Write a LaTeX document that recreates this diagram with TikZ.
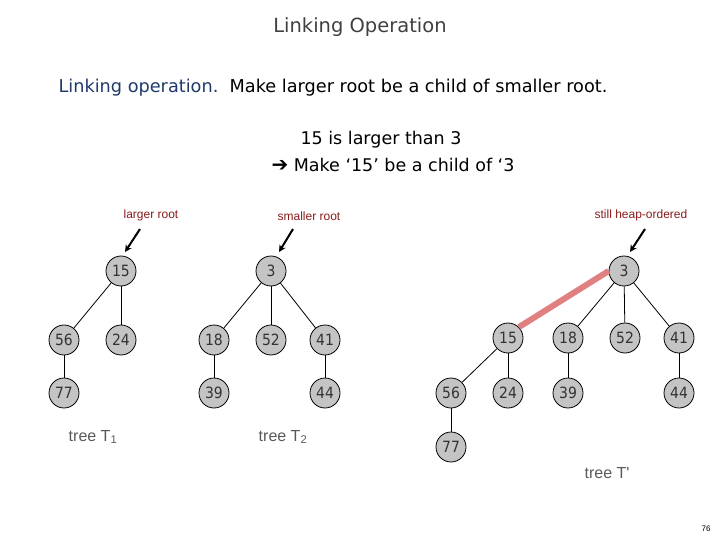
\documentclass[tikz,border=0pt]{standalone}
\usepackage{fontspec}
\setmainfont{DejaVu Sans}
\newfontfamily\keyfont{DejaVu Sans Condensed}
\newfontfamily\notefont{Liberation Sans}
\usetikzlibrary{arrows.meta}

\definecolor{keygray}{HTML}{C4C4C4}
\definecolor{notered}{HTML}{8B1A1A}
\definecolor{linkred}{HTML}{E08080}
\definecolor{headblue}{HTML}{1F3A6B}

\tikzset{
  key/.style={circle, draw, line width=0.8pt, fill=keygray, minimum size=30pt,
    inner sep=0pt, font=\keyfont\fontsize{15.5}{15.5}\selectfont, text=black!80},
  edge/.style={line width=0.8pt},
  note/.style={font=\notefont\fontsize{12}{12}\selectfont, text=notered},
  pointer/.style={line width=2pt, -{Stealth[length=7pt, width=7pt]}},
  treename/.style={font=\notefont\fontsize{16}{16}\selectfont, text=black!65}
}

\begin{document}
\begin{tikzpicture}[x=1pt,y=-1pt]
  \useasboundingbox (0,0) rectangle (720,540);

  % headings
  \node[font=\fontsize{19.5}{19.5}\selectfont, text=black!75] (title) at (360,27) {Linking Operation};
  \node[anchor=west, font=\fontsize{17.7}{17.7}\selectfont] (rule) at (55,88)
    {\textcolor{headblue}{Linking operation.}\ \ Make larger root be a child of smaller root.};
  \node[font=\fontsize{17.5}{17.5}\selectfont] (why) at (381,140) {15 is larger than 3};
  \node[anchor=west, font=\fontsize{17.5}{17.5}\selectfont] (what) at (268,165)
    {{\fontsize{20}{20}\selectfont\raisebox{-0.5pt}{➔}} Make ‘15’ be a child of ‘3};

  % tree T1
  \node[key] (a) at (121,271) {15};
  \node[key] (b) at (64,340) {56};
  \node[key] (c) at (121,340) {24};
  \node[key] (d) at (64,393) {77};
  \draw[edge] (a) -- (b);
  \draw[edge] (a) -- (c);
  \draw[edge] (b) -- (d);

  % tree T2
  \node[key] (e) at (271,271) {3};
  \node[key] (f) at (214,340) {18};
  \node[key] (g) at (271,340) {52};
  \node[key] (h) at (325,340) {41};
  \node[key] (i) at (214,393) {39};
  \node[key] (j) at (325,393) {44};
  \draw[edge] (e) -- (f);
  \draw[edge] (e) -- (g);
  \draw[edge] (e) -- (h);
  \draw[edge] (f) -- (i);
  \draw[edge] (h) -- (j);

  % tree T'
  \node[key] (k) at (624,271) {3};
  \node[key] (l) at (508,338) {15};
  \node[key] (m) at (568,338) {18};
  \node[key] (n) at (625,338) {52};
  \node[key] (o) at (679,338) {41};
  \node[key] (p) at (451,393) {56};
  \node[key] (q) at (508,393) {24};
  \node[key] (r) at (568,393) {39};
  \node[key] (s) at (679,393) {44};
  \node[key] (t) at (451,447) {77};
  \draw[linkred, line width=6pt] (k.west) -- (l.north east);
  \draw[edge] (k) -- (m);
  \draw[edge] (k) -- (n);
  \draw[edge] (k) -- (o);
  \draw[edge] (l) -- (p);
  \draw[edge] (l) -- (q);
  \draw[edge] (m) -- (r);
  \draw[edge] (o) -- (s);
  \draw[edge] (p) -- (t);

  % notes and pointers
  \node[note] (u) at (151,215) {larger root};
  \node[note] (v) at (309,216) {smaller root};
  \node[note] (w) at (641,215) {still heap-ordered};
  \coordinate (ua) at (140,229);
  \coordinate (ub) at (125,252);
  \coordinate (va) at (293,229);
  \coordinate (vb) at (279,252);
  \coordinate (wa) at (645,229);
  \coordinate (wb) at (630,252);
  \draw[pointer] (ua) -- (ub);
  \draw[pointer] (va) -- (vb);
  \draw[pointer] (wa) -- (wb);

  % tree names
  \node[treename] (x) at (93,437) {tree T\textsubscript{1}};
  \node[treename] (y) at (283,437) {tree T\textsubscript{2}};
  \node[treename] (z) at (607,473) {tree T'};

  \node[font=\notefont\fontsize{8}{8}\selectfont] (page) at (706,529) {76};
\end{tikzpicture}
\end{document}
